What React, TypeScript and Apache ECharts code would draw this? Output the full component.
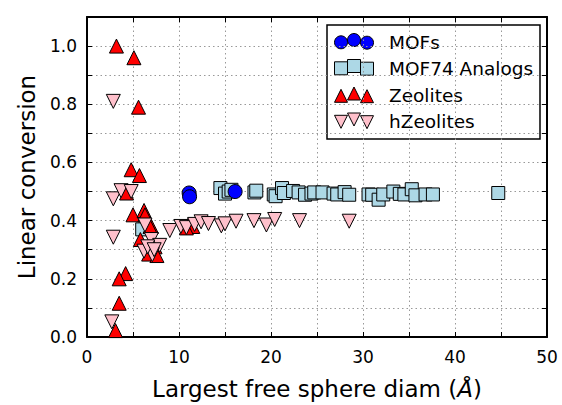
import React, { useEffect, useRef } from "react";
import * as echarts from "echarts";

// ---- data (x = largest free sphere diameter, y = linear conversion) ----
const mofs: number[][] = [
  [11.1, 0.495], [11.15, 0.482], [16.1, 0.5],
];

const mof74Analogs: number[][] = [
  [6.0, 0.37],
  [14.5, 0.512], [15.0, 0.493], [15.4, 0.5], [15.7, 0.506],
  [18.2, 0.497], [18.4, 0.503], [20.3, 0.49], [20.5, 0.484],
  [21.2, 0.512], [21.4, 0.495], [22.4, 0.502], [23.0, 0.497],
  [23.7, 0.489], [24.4, 0.493], [24.7, 0.497], [25.6, 0.497],
  [26.8, 0.493], [27.2, 0.49], [28.0, 0.498], [28.5, 0.489],
  [30.6, 0.49], [31.0, 0.489], [31.7, 0.472], [32.2, 0.49],
  [33.3, 0.5], [34.0, 0.492], [34.5, 0.49], [35.3, 0.508],
  [35.7, 0.487], [36.8, 0.49], [37.6, 0.49], [44.7, 0.495],
];

const zeolites: number[][] = [
  [3.2, 1.0], [5.1, 0.96], [5.6, 0.79], [4.8, 0.575], [5.7, 0.555],
  [4.3, 0.495], [5.0, 0.42], [6.2, 0.435], [6.3, 0.42], [7.0, 0.38],
  [5.8, 0.335], [7.4, 0.31], [6.7, 0.285], [7.6, 0.28], [4.2, 0.218],
  [3.5, 0.2], [3.5, 0.116], [3.1, 0.022], [6.85, 0.38], [11.0, 0.385],
  [11.5, 0.38], [10.8, 0.375],
];

const hZeolites: number[][] = [
  [2.86, 0.81], [2.86, 0.475], [3.7, 0.503], [4.8, 0.5], [2.86, 0.343],
  [2.7, 0.052], [6.3, 0.385], [7.0, 0.335], [7.9, 0.315], [6.2, 0.295],
  [7.1, 0.283], [6.6, 0.31], [7.3, 0.3], [9.0, 0.366], [10.2, 0.38],
  [10.8, 0.376], [11.7, 0.387], [12.4, 0.396], [13.2, 0.39], [14.6, 0.382],
  [15.0, 0.389], [16.2, 0.398], [18.15, 0.4], [19.5, 0.385], [20.4, 0.404],
  [23.1, 0.4], [28.5, 0.398],
];

const seriesNames = ["MOFs", "MOF74 Analogs", "Zeolites", "hZeolites"];
const seriesColors = ["#0000ff", "#add8e6", "#ff0000", "#ffc0cb"];

const xLabelStep = 10;
const yLabelStep = 0.2;

const FONT = "DejaVu Sans";

function marker(kind: string, cx: number, cy: number, color: string, s: number) {
  const h = s / 2;
  const style = { fill: color, stroke: "#000", lineWidth: 1 };
  if (kind === "circle") return { type: "circle", shape: { cx, cy, r: h }, style };
  if (kind === "rect") return { type: "rect", shape: { x: cx - h, y: cy - h, width: s, height: s }, style };
  if (kind === "up")
    return { type: "polygon", shape: { points: [[cx, cy - h], [cx + h, cy + h], [cx - h, cy + h]] }, style };
  return { type: "polygon", shape: { points: [[cx - h, cy - h], [cx + h, cy - h], [cx, cy + h]] }, style };
}

export default function App() {
  const ref = useRef<HTMLDivElement>(null);
  useEffect(() => {
    if (!ref.current) return;
    const chart = echarts.init(ref.current, undefined, { renderer: "svg" });

    const kinds = ["circle", "rect", "up", "down"];
    const legendChildren: any[] = [
      { type: "rect", shape: { x: 327, y: 25, width: 213, height: 114 }, style: { fill: "#fff", stroke: "#000", lineWidth: 1.5 } },
    ];
    const rowY = [42, 68, 95.5, 121.5];
    const offs = [0.3, -2, 0.7];
    const xs = [341, 354, 367];
    seriesNames.forEach((n, i) => {
      xs.forEach((x, j) => {
        legendChildren.push(marker(kinds[i], x, rowY[i] + offs[j], seriesColors[i], 13));
      });
      legendChildren.push({
        type: "text",
        style: { text: n, x: 389, y: rowY[i], fill: "#000", font: `18.5px "${FONT}"`, verticalAlign: "middle", align: "left" },
      });
    });

    const axisCommon = {
      axisLine: { show: true, onZero: false, lineStyle: { color: "#000", width: 2 } },
      axisTick: { show: true, inside: true, length: 5, lineStyle: { color: "#000", width: 1 } },
    };

    const scatterBase = (name: string, data: number[][], symbol: string, color: string, size: number, rot = 0, z = 2) => ({
      type: "scatter",
      name,
      data,
      symbol,
      symbolSize: size,
      symbolRotate: rot,
      itemStyle: { color, borderColor: "#000", borderWidth: 1, opacity: 1 },
      z,
    });

    chart.setOption({
      animation: false,
      backgroundColor: "#fff",
      grid: { left: 87, right: 15, top: 17, bottom: 65, containLabel: false },
      xAxis: [
        {
          type: "value", min: 0, max: 50, interval: 5, position: "bottom",
          ...axisCommon,
          axisLabel: {
            color: "#000", fontFamily: FONT, fontSize: 17, margin: 11,
            formatter: (v: number) => (Math.round(v) % xLabelStep === 0 ? String(v) : ""),
          },
          splitLine: { show: true, lineStyle: { color: "#999", type: [1.5, 3], width: 1 } },
          name: "Largest free sphere diam ({i|Å})",
          nameLocation: "middle",
          nameGap: 40,
          nameTextStyle: {
            color: "#000", fontFamily: FONT, fontSize: 23,
            rich: { i: { fontStyle: "italic", fontFamily: FONT, fontSize: 23, color: "#000" } },
          },
        },
        {
          type: "value", min: 0, max: 50, interval: 5, position: "top",
          ...axisCommon,
          axisLabel: { show: false },
          splitLine: { show: false },
        },
      ],
      yAxis: [
        {
          type: "value", min: 0, max: 1.1, interval: 0.1, position: "left",
          ...axisCommon,
          axisLabel: {
            color: "#000", fontFamily: FONT, fontSize: 17, margin: 10,
            formatter: (v: number) => {
              const k = Math.round(v * 10);
              return k % Math.round(yLabelStep * 10) === 0 && k <= 10 ? (k / 10).toFixed(1) : "";
            },
          },
          splitLine: { show: true, lineStyle: { color: "#999", type: [1.5, 3], width: 1 } },
          name: "Linear conversion",
          nameLocation: "middle",
          nameGap: 49,
          nameTextStyle: { color: "#000", fontFamily: FONT, fontSize: 23 },
        },
        {
          type: "value", min: 0, max: 1.1, interval: 0.1, position: "right",
          ...axisCommon,
          axisLabel: { show: false },
          splitLine: { show: false },
        },
      ],
      series: [
        scatterBase(seriesNames[1], mof74Analogs, "rect", seriesColors[1], 13, 0, 2),
        scatterBase(seriesNames[0], mofs, "circle", seriesColors[0], 14, 0, 3),
        scatterBase(seriesNames[2], zeolites, "triangle", seriesColors[2], 14, 0, 4),
        scatterBase(seriesNames[3], hZeolites, "triangle", seriesColors[3], 14, 180, 5),
      ],
      graphic: [{ type: "group", z: 100, children: legendChildren }],
    });

    return () => chart.dispose();
  }, []);

  return <div ref={ref} style={{ position: "fixed", left: 0, top: 0, width: 562, height: 405 }} />;
}
